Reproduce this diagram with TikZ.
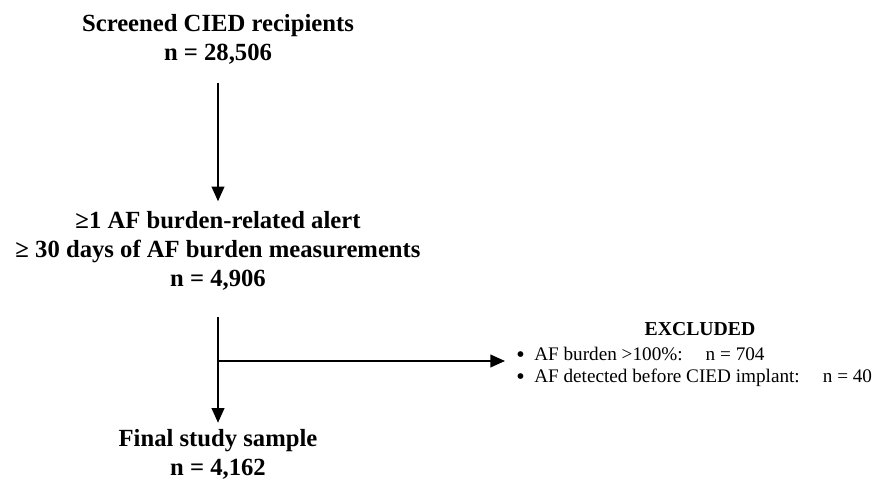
\documentclass[tikz,border=0pt]{standalone}
\usepackage{fontspec}
\setmainfont{Liberation Serif}
\usepackage{tikz}
\usetikzlibrary{positioning}
\usetikzlibrary{arrows.meta}
\usetikzlibrary{calc}

\newcommand{\exbullet}{\raisebox{-0.1em}{\scalebox{1.25}{\textbullet}}\hspace{0.5em}}

\tikzset{
  stage/.style={align=center,font=\fontsize{18.5}{21.75}\selectfont\bfseries,inner sep=0pt},
  excl/.style={align=left,font=\fontsize{14.4}{16.6}\selectfont,inner sep=0pt},
  flow/.style={line width=1.4pt,-{Triangle[width=9.5pt,length=11pt]}}
}

\begin{document}
\begin{tikzpicture}[x=0.75pt,y=-0.75pt]
\useasboundingbox (0,0) rectangle (878,488);

%stages of the cohort
\node (screened) at (218,39) [stage] {Screened CIED recipients\\n = 28,506};
\node (alert) at (218,251) [stage] {≥1 AF burden-related alert\\≥ 30 days of AF burden measurements\\n = 4,906};
\node (final) at (218,454) [stage] {Final study sample\\n = 4,162};

%exclusions
\node (exhead) at (700,335) [stage,anchor=base,font=\fontsize{14.8}{14.8}\selectfont\bfseries] {EXCLUDED};
\node (exlist) at (516,367) [excl,anchor=west] {\exbullet AF burden >100\%:\hspace{1.2em}n = 704\\
\exbullet AF detected before CIED implant:\hspace{1.2em}n = 40};

%connectors
\coordinate (split) at (218,361);
\draw [flow,shorten <=14pt,shorten >=7.5pt] (screened) -- (alert);
\draw [flow,shorten >=4.5pt] (alert.south |- 0,317) -- (final);
\draw [flow] (split) -- ($(split -| exlist.west)+(-11,0)$);
\end{tikzpicture}
\end{document}
